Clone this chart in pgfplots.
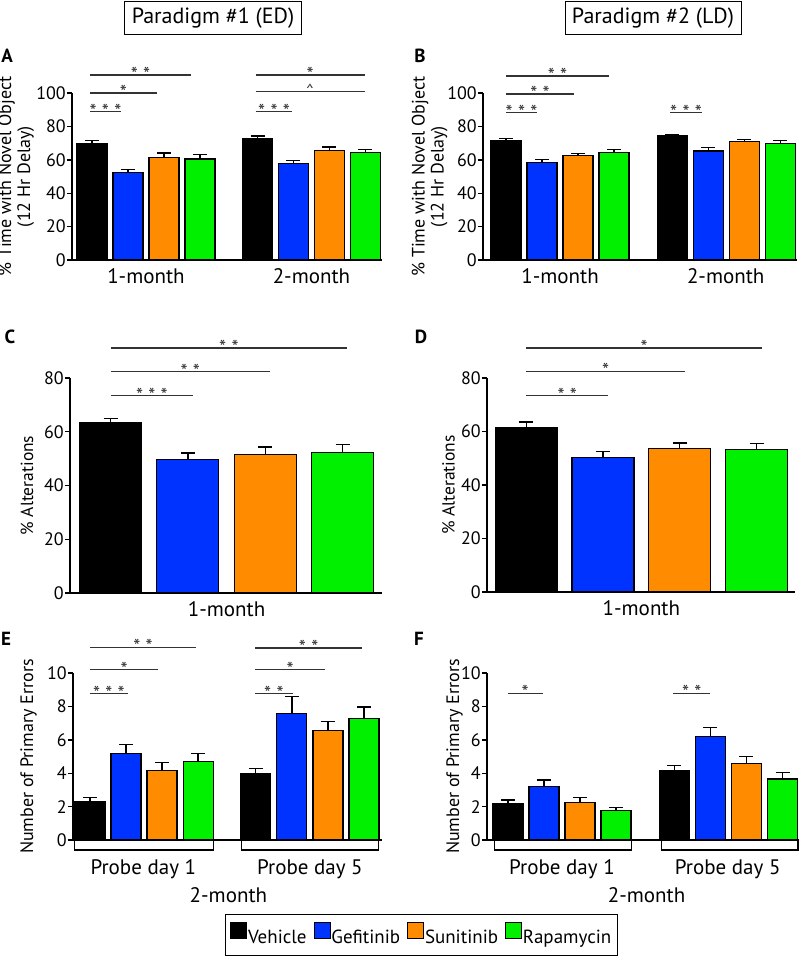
\documentclass[border=0pt]{standalone}
\usepackage{fontspec}
\setmainfont{PT Sans}
\usepackage{pgfplots}
\pgfplotsset{compat=1.18}
\definecolor{cveh}{HTML}{000000}
\definecolor{cgef}{HTML}{0033FF}
\definecolor{csun}{HTML}{FF8C00}
\definecolor{crap}{HTML}{00F000}
\definecolor{siggray}{HTML}{333333}

\newcommand\fs[1]{\fontsize{#1}{#1}\selectfont}
% significance bar: x1, x2, y, stars
\newcommand\sig[4]{\draw[siggray,line width=1.2pt] (axis cs:#1,#3) -- (axis cs:#2,#3)
  node[midway,anchor=south,inner sep=0pt,text height=0.6em,text depth=0pt,yshift=-7pt,font=\fs{20}] {#4};}

\pgfplotsset{
  panel/.style={
    scale only axis, clip=false,
    axis x line*=bottom, axis y line*=left,
    axis line style={line width=1.6pt},
    ymin=0,
    xtick style={draw=none},
    ytick style={line width=1.4pt, black},
    tick align=outside, major tick length=5pt,
    /pgf/number format/assume math mode=true,
    yticklabel style={font=\fs{18}, inner sep=1pt},
    xticklabel style={font=\fs{21}, inner sep=0pt, yshift=-3pt},
    ylabel style={font=\fontsize{18}{19}\selectfont, align=center},
    xlabel style={font=\fs{21}},
  },
  mybar/.style={ybar, bar width=#1, bar shift=0pt, draw=black, line width=1.2pt,
    error bars/y dir=plus, error bars/y explicit,
    error bars/error bar style={line width=1.3pt, black},
    error bars/error mark options={rotate=90, line width=1.3pt, black, mark size=7pt}},
  legsq/.style={legend image code/.code={\draw[fill=#1,draw=black,line width=0.8pt] (0pt,-1pt) rectangle (16pt,15pt);}},
}

\begin{document}
\begin{tikzpicture}
\path[use as bounding box] (0pt,0pt) rectangle (800pt,-958pt);

% ---------- A ----------
\begin{axis}[panel, at={(72pt,-260pt)}, anchor=south west, width=310pt, height=167pt,
  xmin=-0.556, xmax=8.06, ymax=100, ytick={0,20,...,100},
  xtick={1.5,6.1}, xticklabels={1-month,2-month},
  ylabel={\% Time with Novel Object\\(12 Hr Delay)},
  ylabel style={at={(axis description cs:-0.18,0.5)}, anchor=center}]
\addplot[mybar=30pt, fill=cveh] coordinates {(0,70.0) +- (0,1.5) (4.6,72.6) +- (0,1.6)};
\addplot[mybar=30pt, fill=cgef] coordinates {(1,52.5) +- (0,1.5) (5.6,57.7) +- (0,2.0)};
\addplot[mybar=30pt, fill=csun] coordinates {(2,61.5) +- (0,2.6) (6.6,65.7) +- (0,2.0)};
\addplot[mybar=30pt, fill=crap] coordinates {(3,60.5) +- (0,2.5) (7.6,64.3) +- (0,2.0)};
\sig{-0.05}{0.8}{88.8}{* * *}
\sig{-0.05}{1.8}{100}{*}
\sig{-0.05}{2.75}{110.8}{* *}
\sig{4.55}{5.57}{88.8}{* * *}
\draw[siggray,line width=1.2pt] (axis cs:4.55,101) -- (axis cs:7.58,101)
  node[midway,anchor=south,inner sep=0pt,text height=0.5em,text depth=0pt,yshift=-4.5pt,font=\fs{16}] {\textasciicircum};
\sig{4.55}{7.58}{110.8}{*}
\end{axis}

% ---------- B ----------
\begin{axis}[panel, at={(483pt,-260pt)}, anchor=south west, width=314pt, height=167pt,
  xmin=-0.64, xmax=8.08, ymax=100, ytick={0,20,...,100},
  xtick={1.5,6.1}, xticklabels={1-month,2-month},
  ylabel={\% Time with Novel Object\\(12 Hr Delay)},
  ylabel style={at={(axis description cs:-0.17,0.5)}, anchor=center}]
\addplot[mybar=30pt, fill=cveh] coordinates {(0,71.4) +- (0,1.2) (4.62,74.3) +- (0,0.8)};
\addplot[mybar=30pt, fill=cgef] coordinates {(1,58.5) +- (0,1.5) (5.62,65.3) +- (0,2.2)};
\addplot[mybar=30pt, fill=csun] coordinates {(2,62.7) +- (0,1.2) (6.62,71.1) +- (0,1.2)};
\addplot[mybar=30pt, fill=crap] coordinates {(3,64.3) +- (0,1.7) (7.62,69.9) +- (0,1.5)};
\sig{0}{0.86}{88.2}{* * *}
\sig{0}{1.89}{99.4}{* *}
\sig{0}{2.86}{110.2}{* *}
\sig{4.56}{5.44}{88.2}{* * *}
\end{axis}

% ---------- C ----------
\begin{axis}[panel, at={(70pt,-593pt)}, anchor=south west, width=312pt, height=215pt,
  xmin=-0.524, xmax=3.51, ymax=80, ytick={0,20,...,80},
  xtick={1.5}, xticklabels={1-month},
  ylabel={\% Alterations},
  ylabel style={at={(axis description cs:-0.138,0.5)}, anchor=center, font=\fs{17.5}}]
\addplot[mybar=62pt, fill=cveh] coordinates {(0,63.3) +- (0,1.6)};
\addplot[mybar=62pt, fill=cgef] coordinates {(1,49.6) +- (0,2.5)};
\addplot[mybar=62pt, fill=csun] coordinates {(2,51.5) +- (0,2.8)};
\addplot[mybar=62pt, fill=crap] coordinates {(3,52.3) +- (0,2.9)};
\sig{0}{1.07}{73.4}{* * *}
\sig{0}{2.06}{82.3}{* *}
\sig{0}{3.06}{91.2}{* *}
\end{axis}

% ---------- D ----------
\begin{axis}[panel, at={(487pt,-592pt)}, anchor=south west, width=308pt, height=214pt,
  xmin=-0.51, xmax=3.5, ymax=80, ytick={0,20,...,80},
  xtick={1.5}, xticklabels={1-month},
  ylabel={\% Alterations},
  ylabel style={at={(axis description cs:-0.125,0.5)}, anchor=center, font=\fs{17.5}}]
\addplot[mybar=62pt, fill=cveh] coordinates {(0,61.5) +- (0,2.1)};
\addplot[mybar=62pt, fill=cgef] coordinates {(1,50.3) +- (0,2.1)};
\addplot[mybar=62pt, fill=csun] coordinates {(2,53.6) +- (0,2.1)};
\addplot[mybar=62pt, fill=crap] coordinates {(3,53.4) +- (0,2.0)};
\sig{0}{1.07}{73.4}{* *}
\sig{0}{2.07}{82.5}{*}
\sig{0}{3.07}{91.2}{*}
\end{axis}

% ---------- E ----------
\begin{axis}[panel, at={(73pt,-840pt)}, anchor=south west, width=309pt, height=167pt,
  xmin=-0.47, xmax=8.1, ymax=10, ytick={0,2,...,10},
  xtick={1.48,6.1}, xticklabels={Probe day 1,Probe day 5},
  xticklabel style={yshift=-11pt},
  xlabel={2-month},
  xlabel style={at={(axis description cs:0.503,-0.33)}, anchor=center},
  ylabel={Number of Primary Errors},
  ylabel style={at={(axis description cs:-0.144,0.5)}, anchor=center, font=\fs{18}},
  legend columns=4,
  legend style={at={(axis description cs:1.127,-0.567)}, anchor=center, draw=black,
    line width=1pt, font=\fs{19}, inner xsep=5pt, inner ysep=8pt,
    /tikz/every even column/.append style={column sep=6pt},
    /tikz/every odd column/.append style={column sep=0pt},
    nodes={inner xsep=1pt}}]
\addplot[mybar=30pt, fill=cveh, legsq=cveh] coordinates {(0,2.30) +- (0,0.26) (4.6,4.00) +- (0,0.30)};
\addlegendentry{Vehicle}
\addplot[mybar=30pt, fill=cgef, legsq=cgef] coordinates {(1,5.16) +- (0,0.54) (5.6,7.56) +- (0,1.04)};
\addlegendentry{Gefitinib}
\addplot[mybar=30pt, fill=csun, legsq=csun] coordinates {(2,4.14) +- (0,0.50) (6.6,6.56) +- (0,0.54)};
\addlegendentry{Sunitinib}
\addplot[mybar=30pt, fill=crap, legsq=crap] coordinates {(3,4.68) +- (0,0.52) (7.6,7.26) +- (0,0.70)};
\addlegendentry{Rapamycin}
\draw[line width=1.1pt] (axis cs:-0.42,0) rectangle ([yshift=-10pt]axis cs:3.42,0);
\draw[line width=1.1pt] (axis cs:4.21,0) rectangle ([yshift=-10pt]axis cs:8.0,0);
\sig{0}{1.05}{8.76}{* * *}
\sig{0}{1.9}{10.2}{*}
\sig{0}{2.94}{11.54}{* *}
\sig{4.58}{5.62}{8.76}{* *}
\sig{4.58}{6.52}{10.2}{*}
\sig{4.58}{7.55}{11.5}{* *}
\end{axis}

% ---------- F ----------
\begin{axis}[panel, at={(487pt,-840pt)}, anchor=south west, width=311pt, height=167pt,
  xmin=-0.58, xmax=8.05, ymax=10, ytick={0,2,...,10},
  xtick={1.5,6.1}, xticklabels={Probe day 1,Probe day 5},
  xticklabel style={yshift=-11pt},
  xlabel={2-month},
  xlabel style={at={(axis description cs:0.513,-0.33)}, anchor=center},
  ylabel={Number of Primary Errors},
  ylabel style={at={(axis description cs:-0.104,0.5)}, anchor=center, font=\fs{18}}]
\addplot[mybar=30pt, fill=cveh] coordinates {(0,2.19) +- (0,0.20) (4.62,4.18) +- (0,0.30)};
\addplot[mybar=30pt, fill=cgef] coordinates {(1,3.19) +- (0,0.40) (5.62,6.22) +- (0,0.52)};
\addplot[mybar=30pt, fill=csun] coordinates {(2,2.25) +- (0,0.30) (6.62,4.58) +- (0,0.44)};
\addplot[mybar=30pt, fill=crap] coordinates {(3,1.75) +- (0,0.18) (7.62,3.65) +- (0,0.40)};
\draw[line width=1.1pt] (axis cs:-0.38,0) rectangle ([yshift=-10pt]axis cs:3.44,0);
\draw[line width=1.1pt] (axis cs:4.25,0) rectangle ([yshift=-10pt]axis cs:8.05,0);
\sig{0}{0.96}{8.77}{*}
\sig{4.59}{5.61}{8.77}{* *}
\end{axis}

% headers and panel letters
\node[draw, line width=1pt, minimum width=177pt, minimum height=33pt, font=\fs{22}] at (213pt,-18.5pt) {Paradigm \#1 (ED)};
\node[draw, line width=1pt, minimum width=176pt, minimum height=33pt, font=\fs{22}] at (653pt,-18.5pt) {Paradigm \#2 (LD)};
\node[font=\bfseries\fs{19}] at (7pt,-56pt) {A};
\node[font=\bfseries\fs{19}] at (420pt,-56pt) {B};
\node[font=\bfseries\fs{19}] at (10pt,-337pt) {C};
\node[font=\bfseries\fs{19}] at (421pt,-337pt) {D};
\node[font=\bfseries\fs{19}] at (6pt,-639pt) {E};
\node[font=\bfseries\fs{19}] at (419pt,-639pt) {F};
\end{tikzpicture}
\end{document}
